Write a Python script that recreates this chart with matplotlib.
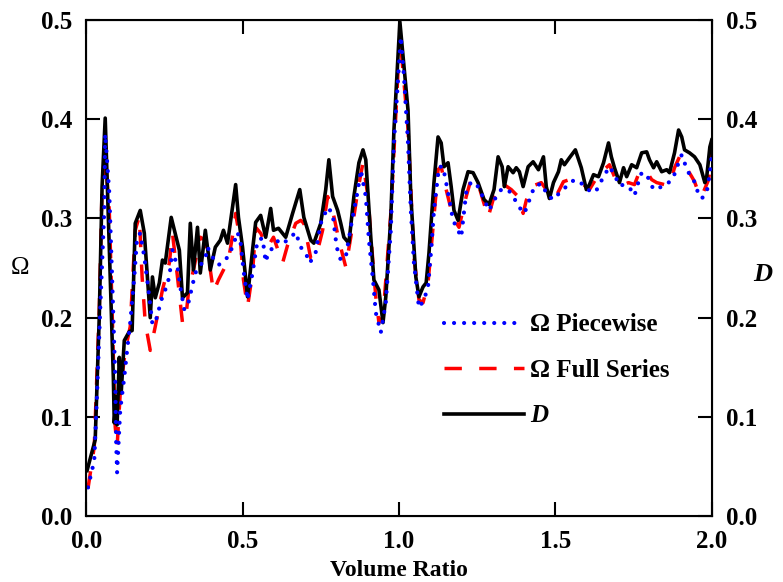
import numpy as np
import matplotlib.pyplot as plt

# data
d_x = [0.003, 0.029, 0.042, 0.051, 0.061, 0.067, 0.077, 0.087, 0.090, 0.096, 0.099, 0.106,
       0.112, 0.122, 0.138, 0.147, 0.157, 0.173, 0.186, 0.196, 0.205, 0.212, 0.221, 0.234,
       0.244, 0.253, 0.272, 0.298, 0.308, 0.324, 0.333, 0.343, 0.356, 0.365, 0.381, 0.397,
       0.413, 0.429, 0.439, 0.452, 0.462, 0.478, 0.487, 0.500, 0.516, 0.532, 0.542, 0.558,
       0.574, 0.590, 0.599, 0.615, 0.638, 0.660, 0.683, 0.696, 0.718, 0.728, 0.750, 0.766,
       0.776, 0.788, 0.804, 0.814, 0.824, 0.840, 0.856, 0.872, 0.885, 0.894, 0.910, 0.920,
       0.936, 0.949, 0.958, 0.974, 0.984, 1.003, 1.029, 1.038, 1.054, 1.064, 1.077, 1.087,
       1.096, 1.112, 1.125, 1.135, 1.144, 1.157, 1.167, 1.176, 1.189, 1.205, 1.221, 1.237,
       1.253, 1.272, 1.288, 1.304, 1.317, 1.330, 1.337, 1.349, 1.365, 1.375, 1.385, 1.397,
       1.413, 1.429, 1.446, 1.462, 1.471, 1.481, 1.494, 1.510, 1.519, 1.529, 1.545, 1.564,
       1.583, 1.599, 1.609, 1.622, 1.638, 1.654, 1.670, 1.679, 1.689, 1.705, 1.718, 1.728,
       1.744, 1.760, 1.776, 1.792, 1.801, 1.814, 1.824, 1.840, 1.856, 1.865, 1.881, 1.894,
       1.904, 1.913, 1.929, 1.945, 1.962, 1.978, 1.984, 1.994, 2.000]
d_y = [0.046, 0.077, 0.201, 0.332, 0.401, 0.342, 0.241, 0.140, 0.094, 0.120, 0.092, 0.160,
       0.124, 0.177, 0.186, 0.187, 0.295, 0.308, 0.285, 0.241, 0.200, 0.241, 0.220, 0.235,
       0.258, 0.255, 0.301, 0.268, 0.220, 0.225, 0.295, 0.248, 0.291, 0.245, 0.288, 0.248,
       0.271, 0.278, 0.288, 0.275, 0.298, 0.334, 0.301, 0.271, 0.221, 0.268, 0.296, 0.303,
       0.281, 0.310, 0.288, 0.290, 0.281, 0.305, 0.329, 0.301, 0.278, 0.275, 0.295, 0.329,
       0.359, 0.322, 0.308, 0.295, 0.281, 0.275, 0.322, 0.356, 0.369, 0.359, 0.281, 0.238,
       0.228, 0.195, 0.221, 0.301, 0.389, 0.498, 0.409, 0.322, 0.241, 0.221, 0.231, 0.235,
       0.265, 0.336, 0.382, 0.376, 0.352, 0.356, 0.332, 0.308, 0.298, 0.329, 0.347, 0.346,
       0.336, 0.319, 0.314, 0.329, 0.362, 0.352, 0.332, 0.352, 0.346, 0.351, 0.347, 0.332,
       0.352, 0.357, 0.349, 0.362, 0.332, 0.320, 0.336, 0.347, 0.359, 0.354, 0.361, 0.369,
       0.351, 0.329, 0.334, 0.344, 0.342, 0.356, 0.376, 0.362, 0.351, 0.336, 0.351, 0.342,
       0.354, 0.351, 0.366, 0.367, 0.359, 0.351, 0.357, 0.347, 0.349, 0.346, 0.366, 0.389,
       0.382, 0.369, 0.366, 0.362, 0.354, 0.336, 0.342, 0.372, 0.379]

pw_x = [0.006, 0.026, 0.035, 0.045, 0.058, 0.061, 0.074, 0.083, 0.093, 0.096, 0.099, 0.109,
        0.122, 0.131, 0.141, 0.154, 0.163, 0.173, 0.186, 0.202, 0.212, 0.228, 0.237, 0.253,
        0.266, 0.276, 0.292, 0.301, 0.314, 0.327, 0.349, 0.381, 0.388, 0.404, 0.423, 0.446,
        0.468, 0.484, 0.494, 0.503, 0.516, 0.532, 0.548, 0.564, 0.574, 0.583, 0.596, 0.615,
        0.631, 0.654, 0.670, 0.686, 0.702, 0.715, 0.734, 0.750, 0.772, 0.788, 0.801, 0.814,
        0.830, 0.846, 0.869, 0.878, 0.894, 0.904, 0.917, 0.926, 0.942, 0.958, 0.974, 0.984,
        1.006, 1.016, 1.029, 1.038, 1.048, 1.064, 1.080, 1.093, 1.103, 1.112, 1.128, 1.141,
        1.157, 1.173, 1.189, 1.199, 1.215, 1.231, 1.253, 1.272, 1.288, 1.311, 1.327, 1.349,
        1.365, 1.385, 1.401, 1.413, 1.433, 1.455, 1.478, 1.497, 1.513, 1.535, 1.561, 1.590,
        1.615, 1.631, 1.654, 1.673, 1.689, 1.705, 1.721, 1.737, 1.753, 1.766, 1.776, 1.792,
        1.814, 1.830, 1.846, 1.862, 1.878, 1.894, 1.904, 1.913, 1.926, 1.942, 1.952, 1.968,
        1.984, 1.994, 2.000]
pw_y = [0.029, 0.056, 0.124, 0.208, 0.308, 0.385, 0.326, 0.241, 0.140, 0.074, 0.044, 0.107,
        0.140, 0.167, 0.195, 0.241, 0.281, 0.285, 0.261, 0.221, 0.193, 0.201, 0.215, 0.228,
        0.241, 0.268, 0.251, 0.231, 0.208, 0.215, 0.245, 0.260, 0.271, 0.261, 0.253, 0.258,
        0.271, 0.286, 0.275, 0.248, 0.218, 0.245, 0.278, 0.280, 0.256, 0.266, 0.270, 0.278,
        0.275, 0.281, 0.286, 0.271, 0.265, 0.255, 0.266, 0.295, 0.311, 0.305, 0.271, 0.258,
        0.261, 0.291, 0.329, 0.349, 0.322, 0.278, 0.238, 0.205, 0.185, 0.215, 0.288, 0.376,
        0.483, 0.443, 0.376, 0.308, 0.255, 0.210, 0.218, 0.231, 0.268, 0.308, 0.352, 0.352,
        0.326, 0.298, 0.288, 0.281, 0.326, 0.337, 0.332, 0.319, 0.308, 0.322, 0.329, 0.329,
        0.322, 0.311, 0.305, 0.315, 0.332, 0.335, 0.322, 0.319, 0.326, 0.332, 0.339, 0.334,
        0.326, 0.328, 0.342, 0.352, 0.344, 0.333, 0.334, 0.331, 0.323, 0.337, 0.346, 0.344,
        0.329, 0.331, 0.332, 0.336, 0.342, 0.356, 0.364, 0.356, 0.346, 0.339, 0.329, 0.320,
        0.326, 0.346, 0.364]

fs_x = [0.006, 0.026, 0.042, 0.051, 0.061, 0.074, 0.083, 0.093, 0.099, 0.109, 0.125, 0.141,
        0.157, 0.170, 0.179, 0.189, 0.205, 0.221, 0.244, 0.266, 0.276, 0.292, 0.308, 0.317,
        0.327, 0.343, 0.365, 0.381, 0.397, 0.407, 0.423, 0.439, 0.455, 0.471, 0.478, 0.494,
        0.503, 0.516, 0.532, 0.542, 0.558, 0.580, 0.599, 0.628, 0.644, 0.670, 0.686, 0.696,
        0.718, 0.734, 0.756, 0.772, 0.788, 0.808, 0.830, 0.846, 0.869, 0.885, 0.901, 0.917,
        0.926, 0.936, 0.949, 0.958, 0.974, 1.003, 1.029, 1.048, 1.064, 1.077, 1.093, 1.109,
        1.125, 1.135, 1.151, 1.173, 1.192, 1.215, 1.231, 1.256, 1.285, 1.304, 1.327, 1.359,
        1.381, 1.397, 1.407, 1.423, 1.455, 1.487, 1.497, 1.526, 1.545, 1.590, 1.609, 1.638,
        1.673, 1.689, 1.712, 1.734, 1.753, 1.769, 1.792, 1.808, 1.824, 1.849, 1.865, 1.881,
        1.897, 1.913, 1.936, 1.945, 1.962, 1.974, 1.990, 2.000]
fs_y = [0.028, 0.070, 0.208, 0.332, 0.362, 0.308, 0.208, 0.090, 0.070, 0.124, 0.167, 0.191,
        0.288, 0.302, 0.241, 0.195, 0.167, 0.191, 0.228, 0.255, 0.285, 0.241, 0.195, 0.195,
        0.225, 0.248, 0.281, 0.278, 0.248, 0.226, 0.238, 0.248, 0.258, 0.288, 0.305, 0.275,
        0.238, 0.211, 0.245, 0.291, 0.285, 0.271, 0.281, 0.255, 0.273, 0.295, 0.298, 0.295,
        0.260, 0.260, 0.288, 0.322, 0.308, 0.278, 0.251, 0.281, 0.329, 0.356, 0.322, 0.255,
        0.221, 0.195, 0.201, 0.238, 0.305, 0.485, 0.390, 0.261, 0.218, 0.215, 0.235, 0.291,
        0.349, 0.352, 0.329, 0.301, 0.291, 0.322, 0.340, 0.332, 0.301, 0.322, 0.336, 0.329,
        0.322, 0.305, 0.318, 0.332, 0.336, 0.322, 0.319, 0.337, 0.339, 0.334, 0.329, 0.344,
        0.354, 0.342, 0.333, 0.336, 0.334, 0.347, 0.347, 0.339, 0.336, 0.334, 0.334, 0.351,
        0.362, 0.354, 0.342, 0.337, 0.322, 0.327, 0.339, 0.366]

x_ticks = [0.0, 0.5, 1.0, 1.5, 2.0]
y_ticks = [0.0, 0.1, 0.2, 0.3, 0.4, 0.5]

plt.rcParams['font.family'] = 'Liberation Serif'
plt.rcParams['font.weight'] = 'bold'
plt.rcParams['mathtext.fontset'] = 'custom'
plt.rcParams['mathtext.it'] = 'Liberation Serif:italic:bold'

fig = plt.figure(figsize=(7.83, 5.82), dpi=100)
ax = fig.add_axes([0.110, 0.113, 0.799, 0.853])

ax.plot(fs_x, fs_y, color='#ff0000', lw=2.5, linestyle=(0, (5.0, 5.0)), label='Ω Full Series', zorder=2)
ax.plot(d_x, d_y, color='black', lw=2.6, label='$D$', zorder=3)
ax.plot(pw_x, pw_y, color='#0000ff', lw=3.0, linestyle=(0, (0.01, 2.4)),
        dash_capstyle='round', label='Ω Piecewise', zorder=4)

ax.set_xlim(0, 2)
ax.set_ylim(0, 0.5)
ax.set_xticks(x_ticks)
ax.set_yticks(y_ticks)
ax.xaxis.set_major_formatter(plt.FormatStrFormatter('%.1f'))
ax.yaxis.set_major_formatter(plt.FormatStrFormatter('%.1f'))
ax.tick_params(direction='in', length=10, width=1.5, labelsize=18, pad=10, top=True)
for s in ax.spines.values():
    s.set_linewidth(1.5)

ax.set_xlabel('Volume Ratio', fontsize=17, fontweight='bold', labelpad=5)
ax.set_ylabel('Ω', fontsize=18, rotation=0, va='center', ha='center')
ax.yaxis.set_label_coords(-0.106, 0.5)

ax2 = ax.twinx()
ax2.set_ylim(0, 0.5)
ax2.set_yticks(y_ticks)
ax2.yaxis.set_major_formatter(plt.FormatStrFormatter('%.1f'))
ax2.tick_params(direction='in', length=10, width=1.5, labelsize=18, pad=10)
ax2.set_ylabel('$D$', fontsize=19, rotation=0, va='center', ha='center')
ax2.yaxis.set_label_coords(1.083, 0.485)

h, l = ax.get_legend_handles_labels()
order = [2, 0, 1]
ax.legend([h[i] for i in order], [l[i] for i in order], loc='center left',
          bbox_to_anchor=(0.572, 0.294), frameon=False, fontsize=18,
          handlelength=3.2, handletextpad=0.25, labelspacing=0.9,
          borderpad=0, borderaxespad=0)

fig.savefig('out.png', dpi=100)
